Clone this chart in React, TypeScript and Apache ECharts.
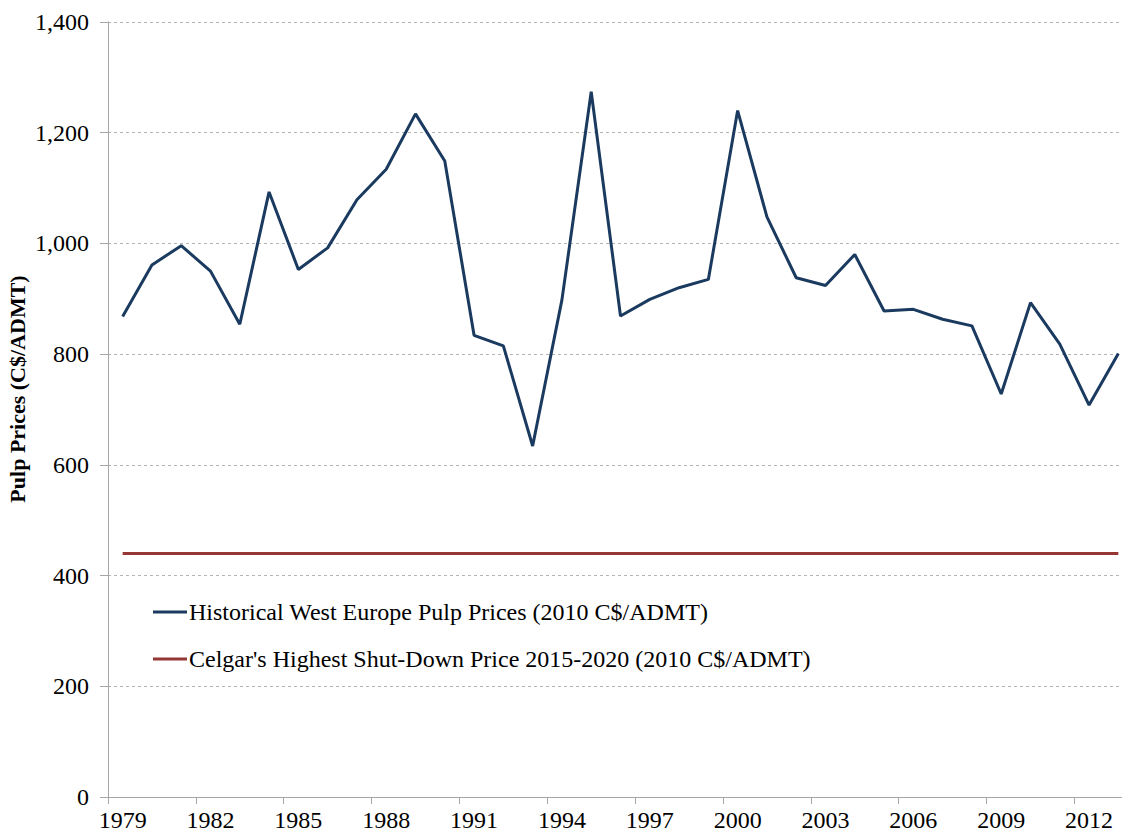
import React, { useEffect, useRef } from "react";
import * as echarts from "echarts";

const years: string[] = [
  "1979", "1980", "1981", "1982", "1983", "1984", "1985", "1986", "1987", "1988",
  "1989", "1990", "1991", "1992", "1993", "1994", "1995", "1996", "1997", "1998",
  "1999", "2000", "2001", "2002", "2003", "2004", "2005", "2006", "2007", "2008",
  "2009", "2010", "2011", "2012", "2013",
];

const historicalPrices: number[] = [
  868, 961, 996, 950, 854, 1093, 953, 992, 1079, 1134,
  1234, 1149, 834, 815, 634, 898, 1274, 869, 899, 920,
  935, 1240, 1048, 938, 924, 980, 878, 881, 863, 851,
  728, 893, 818, 708, 801,
];

const shutDownPrice: number[] = [
  440, 440, 440, 440, 440, 440, 440, 440, 440, 440,
  440, 440, 440, 440, 440, 440, 440, 440, 440, 440,
  440, 440, 440, 440, 440, 440, 440, 440, 440, 440,
  440, 440, 440, 440, 440,
];

const seriesNames: string[] = [
  "Historical West Europe Pulp Prices (2010 C$/ADMT)",
  "Celgar's Highest Shut-Down Price 2015-2020 (2010 C$/ADMT)",
];

const yAxisTitle = "Pulp Prices (C$/ADMT)";

const FONT = "'Liberation Serif', 'Times New Roman', serif";

export default function App() {
  const ref = useRef<HTMLDivElement>(null);

  useEffect(() => {
    if (!ref.current) return;
    const chart = echarts.init(ref.current, undefined, { renderer: "svg" });
    chart.setOption({
      animation: false,
      backgroundColor: "#ffffff",
      textStyle: { fontFamily: FONT },
      grid: { left: 108, top: 22, right: 1, bottom: 37, containLabel: false },
      legend: {
        orient: "vertical",
        left: 153,
        top: 599,
        padding: 0,
        itemWidth: 34,
        itemHeight: 3,
        itemGap: 21,
        icon: "rect",
        data: seriesNames,
        textStyle: {
          fontFamily: FONT,
          fontSize: 24,
          color: "#000",
          lineHeight: 26,
          padding: [0, 0, 0, -3],
        },
      },
      xAxis: {
        type: "category",
        data: years,
        boundaryGap: true,
        axisLine: { show: true, lineStyle: { color: "#a6a6a6", width: 1 } },
        axisTick: { show: true, interval: 2, length: 7, lineStyle: { color: "#a6a6a6" } },
        axisLabel: {
          interval: 2,
          margin: 11,
          fontFamily: FONT,
          fontSize: 24,
          color: "#000",
        },
        splitLine: { show: false },
      },
      yAxis: {
        type: "value",
        min: 0,
        max: 1400,
        interval: 200,
        axisLine: { show: true, lineStyle: { color: "#a6a6a6", width: 1 } },
        axisTick: { show: true, length: 8, lineStyle: { color: "#a6a6a6" } },
        axisLabel: {
          margin: 19,
          fontFamily: FONT,
          fontSize: 24,
          color: "#000",
          formatter: (v: number) => v.toLocaleString("en-US"),
        },
        splitLine: {
          show: true,
          lineStyle: { color: "#b4b4b4", type: [3, 3], width: 1 },
        },
      },
      graphic: [
        {
          type: "text",
          x: 17,
          y: 389,
          rotation: Math.PI / 2,
          style: {
            text: yAxisTitle,
            fontFamily: FONT,
            fontSize: 22,
            fontWeight: "bold",
            fill: "#000",
            align: "center",
            verticalAlign: "middle",
          },
        },
      ],
      series: [
        {
          name: seriesNames[0],
          type: "line",
          data: historicalPrices,
          symbol: "none",
          lineStyle: { color: "#1b3a5f", width: 3 },
          itemStyle: { color: "#1b3a5f" },
        },
        {
          name: seriesNames[1],
          type: "line",
          data: shutDownPrice,
          symbol: "none",
          lineStyle: { color: "#953735", width: 3 },
          itemStyle: { color: "#953735" },
        },
      ],
    });
    return () => chart.dispose();
  }, []);

  return (
    <div
      style={{ position: "fixed", left: 0, top: 0, width: 1122, height: 834, overflow: "hidden", background: "#fff" }}
    >
      <div ref={ref} style={{ width: 1134, height: 834 }} />
    </div>
  );
}
